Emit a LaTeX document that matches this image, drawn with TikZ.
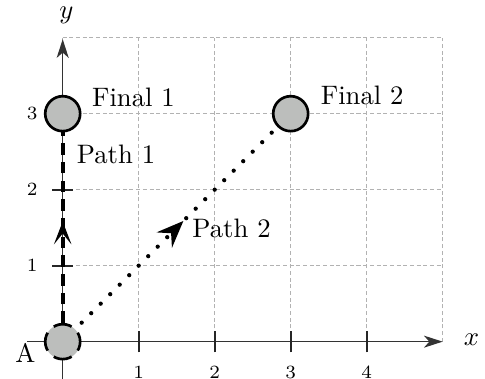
\documentclass[tikz,border=0pt]{standalone}
\usetikzlibrary{arrows.meta,decorations.markings,backgrounds}
\definecolor{ballgray}{RGB}{188,190,188}
\begin{document}
\begin{tikzpicture}[
  ball/.style={circle, draw=black, line width=1pt, fill=ballgray, minimum size=0.46cm, inner sep=0pt},
  startball/.style={ball, dash pattern=on 7pt off 3.27pt, dash phase=3.5pt},
  gridline/.style={draw=black!30, line width=0.35pt, dash pattern=on 1.5pt off 1pt},
  axisline/.style={draw=black!80, line width=0.6pt},
  axisarrow/.style={axisline, -{Stealth[length=7pt,width=4.5pt,inset=2pt]}},
  tickmark/.style={draw=black!85, line width=0.8pt},
  ticklabel/.style={font=\scriptsize, inner sep=0pt},
  lbl/.style={inner sep=0pt, anchor=base west},
  pathone/.style={line width=1.5pt, dash pattern=on 4.3pt off 2.7pt,
    postaction={decorate},
    decoration={markings, mark=at position 0.527 with {\arrow{Stealth[length=8.5pt,width=6.5pt,inset=4pt]}}}},
  pathtwo/.style={line width=1.6pt, line cap=round, dash pattern=on 0pt off 5.03pt,
    postaction={decorate},
    decoration={markings, mark=at position 0.53 with {\arrow{Stealth[length=10pt,width=8pt,inset=3.5pt]}}}}
]
\useasboundingbox (-0.825,-0.491) rectangle (5.557,4.496);

% states
\node[startball] (A) at (0,0) {};
\node[ball] (F1) at (0,3) {};
\node[ball] (F2) at (3,3) {};

% labels
\node[lbl] (lA) at (-0.63,-0.28) {A};
\node[lbl] (lF1) at (0.38,3.10) {Final 1};
\node[lbl] (lF2) at (3.39,3.12) {Final 2};
\node[lbl] (lP1) at (0.18,2.35) {Path 1};
\node[lbl] (lP2) at (1.70,1.37) {Path 2};
\node[inner sep=0pt] (xlab) at (5.38,0.03) {$x$};
\node[inner sep=0pt] (ylab) at (0.05,4.30) {$y$};

\foreach \i in {1,...,4}
  \node[ticklabel] (xt\i) at (\i,-0.40) {\i};
\foreach \i in {1,...,3}
  \node[ticklabel] (yt\i) at (-0.40,\i) {\i};

\begin{scope}[on background layer]
  \draw[gridline] (0,0) grid (5,4);
  \coordinate (xs) at (-0.47,0);
  \coordinate (xe) at (5,0);
  \coordinate (ys) at (0,-0.6);
  \coordinate (ye) at (0,3.98);
  \draw[axisarrow] (xs) -- (xe);
  \draw[axisarrow] (ys) -- (ye);
  \foreach \i in {1,...,4}
    \draw[tickmark] (\i,-0.14) -- (\i,0.14);
  \foreach \i in {1,...,3}
    \draw[tickmark] (-0.14,\i) -- (0.14,\i);
  \draw[pathone] (A.center) -- (F1.center);
  \draw[pathtwo] (A.center) -- (F2.center);
\end{scope}
\end{tikzpicture}
\end{document}
